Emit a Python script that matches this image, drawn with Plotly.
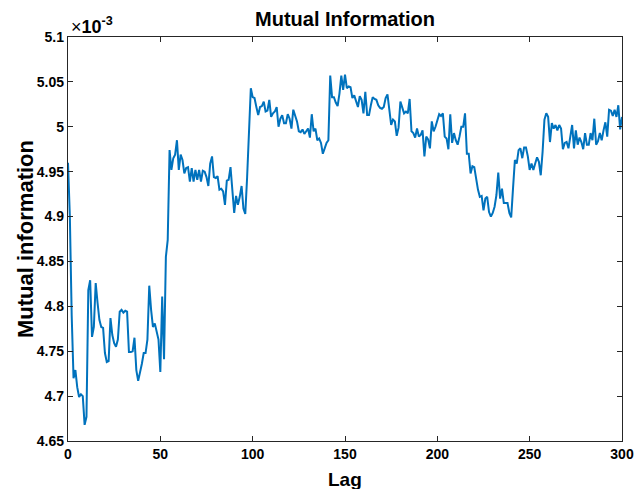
import plotly.graph_objects as go

# Lag values 0..300
lags = list(range(0, 301))

# Mutual information values (x 10^-3)
mi_seg1 = [  # lags 0-59
    4.960, 4.900, 4.790, 4.720, 4.729, 4.710, 4.699, 4.702, 4.700, 4.668,
    4.677, 4.818, 4.829, 4.766, 4.777, 4.826, 4.804, 4.785, 4.777, 4.776,
    4.748, 4.738, 4.739, 4.787, 4.768, 4.759, 4.755, 4.763, 4.794, 4.796,
    4.793, 4.795, 4.794, 4.749, 4.749, 4.750, 4.765, 4.729, 4.717, 4.725,
    4.736, 4.748, 4.748, 4.763, 4.823, 4.796, 4.777, 4.781, 4.772, 4.763,
    4.727, 4.811, 4.741, 4.855, 4.874, 4.974, 4.952, 4.965, 4.969, 4.985,
]
mi_seg2 = [  # lags 60-119
    4.952, 4.969, 4.963, 4.948, 4.954, 4.955, 4.939, 4.954, 4.939, 4.952,
    4.941, 4.952, 4.939, 4.951, 4.950, 4.944, 4.934, 4.959, 4.967, 4.944,
    4.943, 4.945, 4.930, 4.931, 4.928, 4.913, 4.940, 4.941, 4.955, 4.926,
    4.904, 4.923, 4.913, 4.922, 4.934, 4.909, 4.903, 4.944, 5.004, 5.043,
    5.033, 5.032, 5.022, 5.013, 5.022, 5.023, 5.028, 5.017, 5.018, 5.030,
    5.011, 5.015, 5.017, 5.022, 5.000, 5.009, 5.013, 5.004, 5.004, 5.014,
]
mi_seg3 = [  # lags 120-179
    5.009, 4.998, 5.019, 5.013, 5.006, 4.995, 4.994, 4.997, 4.992, 4.995,
    4.998, 4.988, 5.014, 4.995, 4.998, 4.985, 4.987, 4.982, 4.970, 4.976,
    4.982, 4.985, 5.057, 5.033, 5.033, 5.027, 5.023, 5.037, 5.057, 5.041,
    5.058, 5.043, 5.045, 5.044, 5.032, 5.035, 5.028, 5.022, 5.034, 5.030,
    5.015, 5.039, 5.013, 5.013, 5.024, 5.033, 5.031, 5.030, 5.024, 5.021,
    5.020, 5.022, 5.032, 5.036, 5.019, 5.002, 5.008, 5.006, 4.990, 4.999,
]
mi_seg4 = [  # lags 180-239
    5.028, 5.022, 5.015, 5.017, 5.015, 5.031, 4.995, 4.993, 4.988, 4.998,
    4.989, 4.991, 4.996, 4.967, 4.989, 4.986, 4.976, 5.006, 4.995, 5.000,
    5.008, 5.014, 5.012, 5.015, 4.989, 4.987, 4.975, 5.014, 4.982, 4.993,
    4.985, 4.980, 4.989, 5.000, 5.000, 5.015, 4.970, 4.970, 4.948, 4.956,
    4.955, 4.941, 4.930, 4.922, 4.923, 4.907, 4.920, 4.922, 4.905, 4.900,
    4.904, 4.911, 4.924, 4.949, 4.920, 4.931, 4.915, 4.915, 4.915, 4.904,
]
mi_seg5 = [  # lags 240-300
    4.899, 4.932, 4.963, 4.959, 4.974, 4.976, 4.965, 4.977, 4.977, 4.967,
    4.952, 4.959, 4.952, 4.959, 4.966, 4.961, 4.946, 4.972, 5.008, 5.015,
    5.011, 4.983, 5.004, 4.998, 5.002, 4.996, 5.002, 4.998, 4.975, 4.982,
    4.983, 4.976, 4.991, 5.002, 4.976, 4.996, 4.980, 4.988, 4.983, 4.975,
    4.993, 4.980, 4.980, 4.993, 4.985, 5.009, 4.980, 4.984, 4.993, 4.985,
    4.996, 5.005, 4.989, 5.019, 5.018, 5.012, 5.019, 5.011, 5.024, 4.997,
    5.011,
]
mi_scaled = mi_seg1 + mi_seg2 + mi_seg3 + mi_seg4 + mi_seg5
scale = 1e-3
mi_values = [v * scale for v in mi_scaled]

x_ticks = [0, 50, 100, 150, 200, 250, 300]
y_tick_vals = [4.65, 4.7, 4.75, 4.8, 4.85, 4.9, 4.95, 5.0, 5.05, 5.1]
y_tick_text = ["4.65", "4.7", "4.75", "4.8", "4.85", "4.9", "4.95", "5", "5.05", "5.1"]

FONT = "Liberation Sans, Arial, Helvetica, sans-serif"
AX = "#262626"

fig = go.Figure()
fig.add_trace(go.Scatter(
    x=lags, y=mi_values, mode="lines",
    line=dict(color="#0072BD", width=2),
    showlegend=False, hoverinfo="skip",
))

W, H = 635, 489
L, R, T, B = 68, 13, 37, 48

fig.update_layout(
    width=W, height=H,
    margin=dict(l=L, r=R, t=T, b=B, autoexpand=False),
    paper_bgcolor="white", plot_bgcolor="white",
    font=dict(family=FONT, color="black"),
    title=dict(text="<b>Mutual Information</b>", x=0.5, xref="paper",
               y=1 - 19 / H, yref="container", xanchor="center", yanchor="middle",
               font=dict(size=20, family=FONT, color="black")),
)
fig.update_xaxes(
    range=[0, 300], tickvals=x_ticks, ticktext=[f"<b>{t}</b>" for t in x_ticks],
    ticks="inside", ticklen=5, tickwidth=1,
    tickcolor=AX, showline=True, linecolor=AX, linewidth=1.3, mirror="ticks",
    showgrid=False, zeroline=False, automargin=False,
    tickfont=dict(size=14, family=FONT, color="black"),
)
fig.update_yaxes(
    range=[4.65 * scale, 5.1 * scale],
    tickvals=[v * scale for v in y_tick_vals],
    ticktext=[f"<b>{t}</b>" for t in y_tick_text],
    ticks="inside", ticklen=5, tickwidth=1, tickcolor=AX,
    showline=True, linecolor=AX, linewidth=1.3, mirror="ticks",
    showgrid=False, zeroline=False, automargin=False,
    tickfont=dict(size=14, family=FONT, color="black"),
)

plot_w = W - L - R
plot_h = H - T - B
fig.add_annotation(text="<b>Lag</b>", xref="paper", yref="paper",
                   x=0.5, y=-(479 - (H - B)) / plot_h, xanchor="center", yanchor="middle",
                   showarrow=False, font=dict(size=19, family=FONT, color="black"))
fig.add_annotation(text="<b>Mutual information</b>", xref="paper", yref="paper",
                   x=-(L - 25) / plot_w, y=0.5, xanchor="center", yanchor="middle",
                   textangle=-90, showarrow=False,
                   font=dict(size=22, family=FONT, color="black"))
fig.add_annotation(text="×<b>10<sup>-3</sup></b>", xref="paper", yref="paper",
                   x=0.002, y=1.0, xanchor="left", yanchor="bottom", yshift=-2,
                   showarrow=False, font=dict(size=18, family=FONT, color="black"))

fig.write_html("out.html")
